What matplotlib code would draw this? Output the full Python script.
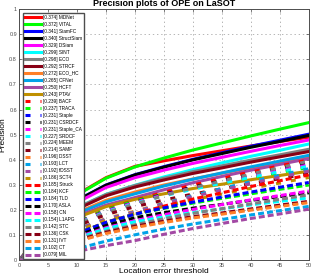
import matplotlib
matplotlib.use("Agg")
import matplotlib.pyplot as plt

plt.rcParams["font.family"] = ["Liberation Sans", "DejaVu Sans"]
plt.rcParams["lines.scale_dashes"] = False

thresholds = [0, 5, 10, 15, 20, 25, 30, 35, 40, 45, 50]

trackers = [
    "MDNet", "VITAL", "SiamFC", "StructSiam", "DSiam", "SINT", "ECO", "STRCF",
    "ECO_HC", "CFNet", "HCFT", "PTAV",
    "BACF", "TRACA", "Staple", "CSRDCF", "Staple_CA", "SRDCF", "MEEM", "SAMF",
    "DSST", "LCT", "fDSST", "SCT4",
    "Struck", "KCF", "TLD", "ASLA", "CN", "L1APG", "STC", "CSK", "IVT", "CT", "MIL",
]
scores = [
    0.374, 0.372, 0.341, 0.340, 0.329, 0.299, 0.298, 0.292, 0.272, 0.265, 0.250, 0.243,
    0.239, 0.237, 0.231, 0.231, 0.231, 0.227, 0.224, 0.214, 0.196, 0.193, 0.192, 0.186,
    0.185, 0.184, 0.184, 0.170, 0.158, 0.154, 0.142, 0.136, 0.131, 0.102, 0.079,
]

# precision read at each threshold
precision = [
    [0, .142, .262, .329, .374, .396, .417, .436, .455, .473, .490],  # MDNet
    [0, .141, .260, .327, .372, .407, .439, .467, .495, .522, .548],  # VITAL
    [0, .130, .239, .300, .341, .373, .402, .428, .454, .478, .502],  # SiamFC
    [0, .129, .238, .299, .340, .371, .400, .425, .450, .473, .497],  # StructSiam
    [0, .125, .230, .290, .329, .359, .386, .410, .434, .457, .479],  # DSiam
    [0, .114, .209, .263, .299, .332, .361, .388, .414, .438, .463],  # SINT
    [0, .113, .209, .262, .298, .327, .353, .376, .399, .420, .442],  # ECO
    [0, .111, .204, .257, .292, .320, .346, .368, .391, .412, .433],  # STRCF
    [0, .103, .190, .239, .272, .300, .324, .347, .369, .389, .410],  # ECO_HC
    [0, .101, .186, .233, .265, .296, .323, .348, .372, .395, .418],  # CFNet
    [0, .095, .175, .220, .250, .281, .309, .334, .359, .382, .405],  # HCFT
    [0, .092, .170, .214, .243, .265, .286, .303, .321, .338, .355],  # PTAV
    [0, .079, .153, .203, .239, .271, .300, .326, .352, .376, .400],  # BACF
    [0, .078, .152, .201, .237, .264, .288, .309, .330, .350, .370],  # TRACA
    [0, .076, .148, .196, .231, .262, .290, .314, .339, .362, .385],  # Staple
    [0, .076, .148, .196, .231, .263, .291, .317, .342, .366, .390],  # CSRDCF
    [0, .076, .148, .196, .231, .261, .288, .311, .335, .358, .380],  # Staple_CA
    [0, .075, .145, .193, .227, .257, .283, .307, .331, .353, .375],  # SRDCF
    [0, .074, .143, .190, .224, .258, .289, .316, .344, .369, .395],  # MEEM
    [0, .071, .137, .182, .214, .240, .264, .285, .306, .325, .345],  # SAMF
    [0, .065, .125, .167, .196, .229, .258, .285, .311, .335, .360],  # DSST
    [0, .064, .124, .164, .193, .227, .258, .286, .313, .339, .365],  # LCT
    [0, .063, .123, .163, .192, .225, .254, .280, .306, .331, .355],  # fDSST
    [0, .061, .119, .158, .186, .215, .241, .264, .287, .308, .330],  # SCT4
    [0, .052, .107, .152, .185, .216, .244, .269, .294, .317, .340],  # Struck
    [0, .052, .107, .151, .184, .207, .228, .247, .265, .283, .300],  # KCF
    [0, .052, .107, .151, .184, .209, .232, .252, .272, .291, .310],  # TLD
    [0, .048, .099, .139, .170, .190, .208, .223, .239, .254, .269],  # ASLA
    [0, .044, .092, .130, .158, .182, .203, .222, .241, .258, .276],  # CN
    [0, .043, .089, .126, .154, .173, .190, .205, .221, .235, .249],  # L1APG
    [0, .040, .082, .116, .142, .166, .187, .206, .225, .243, .261],  # STC
    [0, .038, .079, .112, .136, .156, .174, .189, .205, .220, .235],  # CSK
    [0, .037, .076, .107, .131, .151, .169, .184, .200, .215, .230],  # IVT
    [0, .020, .046, .077, .102, .125, .145, .163, .181, .198, .215],  # CT
    [0, .016, .036, .059, .079, .104, .127, .147, .167, .185, .204],  # MIL
]

colors = [
    "#ff0000", "#00ff00", "#0000ff", "#000000", "#ff00ff", "#00ffff",
    "#808080", "#880015", "#ff7f27", "#00a2e8", "#a349a4", "#bf9000",
]
styles = ["-", (0, (3.6, 7.2)), (0, (4.3, 2.2))]

fig = plt.figure(figsize=(3.11, 2.78), dpi=100)
ax = fig.add_axes([0.061, 0.063, 0.932, 0.905])

for i, (name, sc, vals) in enumerate(zip(trackers, scores, precision)):
    ax.plot(thresholds, vals, color=colors[i % 12], linestyle=styles[i // 12],
            linewidth=2.2, label=f"[{sc:.3f}] {name}")

ax.set_xlim(0, 50)
ax.set_ylim(0, 1)
ax.set_xticks(range(0, 51, 5))
ax.set_yticks([i / 10 for i in range(11)])
ax.set_yticklabels(["0"] + [f"{i / 10:.1f}" for i in range(1, 10)] + ["1"])
ax.tick_params(direction="in", labelsize=4, length=2, width=0.5,
               colors="0.3", pad=1.5, top=True, right=True)
ax.grid(True, linestyle=(0, (1, 2)), color="0.6", linewidth=0.5)
for sp in ax.spines.values():
    sp.set_color("0.3")
    sp.set_linewidth(0.7)

ax.set_xlabel("Location error threshold", fontsize=6, labelpad=0)
ax.set_ylabel("Precision", fontsize=6, labelpad=2)
ax.set_title("Precision plots of OPE on LaSOT", fontsize=6.5, fontweight="bold", pad=2)

ax.legend(loc="upper left", bbox_to_anchor=(0.013, 0.985), borderaxespad=0,
          fontsize=3.4, labelspacing=0.42, handlelength=3.4, handletextpad=0.4,
          borderpad=0.45, fancybox=False, edgecolor="0.3", framealpha=1)

plt.savefig("out.png", dpi=100)
plt.close()
